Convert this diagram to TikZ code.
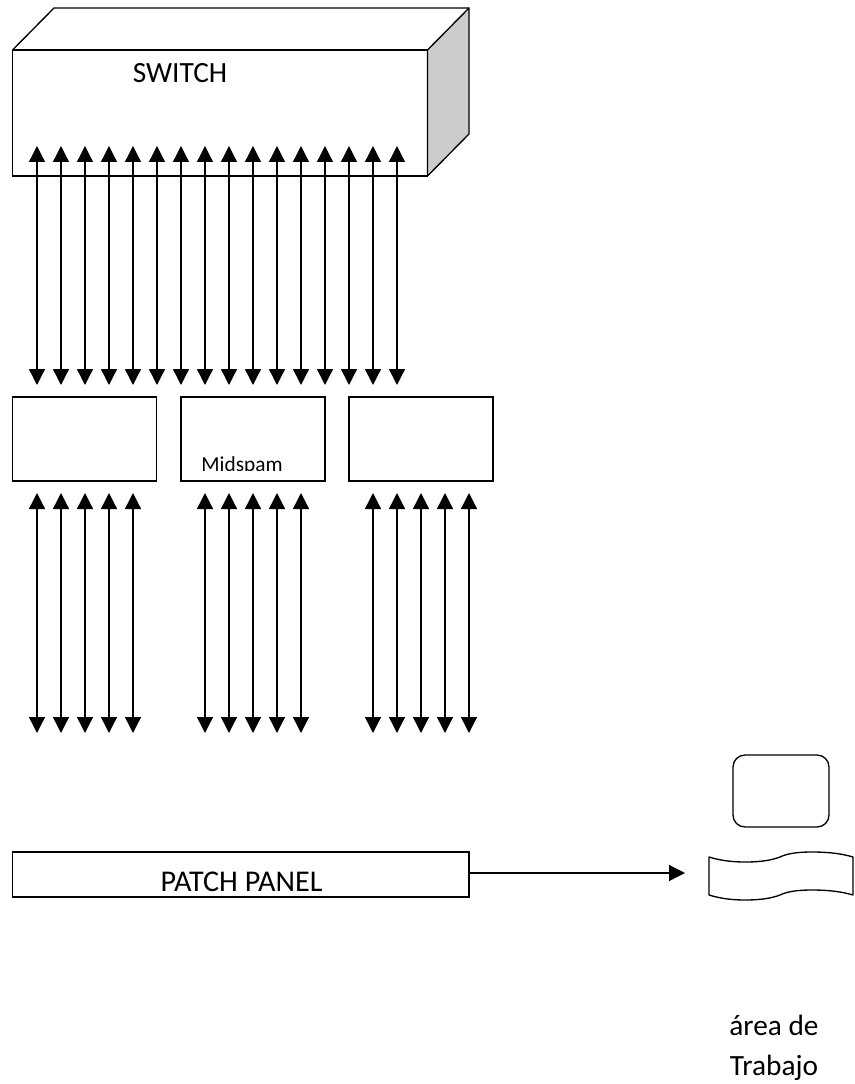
\documentclass[tikz,border=0pt]{standalone}
\usepackage{fontspec}
\setmainfont{Carlito}
\usetikzlibrary{arrows.meta}
\definecolor{sidegray}{HTML}{CCCCCC}
\begin{document}
\begin{tikzpicture}[x=0.75pt, y=-0.75pt,
    box/.style={draw, line width=1pt, anchor=north west, inner sep=0pt, outer sep=0pt},
    link/.style={line width=1pt, {Triangle[width=12pt,length=12pt]}-{Triangle[width=12pt,length=12pt]}},
    label/.style={anchor=base, inner sep=0pt, font=\fontsize{22}{26}\selectfont}]
    \useasboundingbox (0,0) rectangle (855,1084);

    % Switch
    \node[box, minimum width=415*0.75pt, minimum height=126*0.75pt] (switch) at (12.5,50) {};
    \filldraw[line width=1pt, line join=round, fill=sidegray] (switch.north east) -- (469,8) -- (469,134) -- (switch.south east) -- cycle;
    \draw[line width=1pt, line join=round] (switch.north west) -- (54,8) -- (469,8);
    \node[label] (switchtext) at (180,83) {SWITCH};

    % Midspam boxes
    \foreach \name/\x in {mida/12.5, midb/181, midc/349}
        \node[box, minimum width=144*0.75pt, minimum height=84*0.75pt] (\name) at (\x,397) {};
    \begin{scope}
        \clip (181,397) rectangle (325,470);
        \node[label, font=\fontsize{16}{19}\selectfont] (midtext) at (242,471) {Midspam};
    \end{scope}

    % Upper links
    \foreach \x in {37,61,...,397} {
        \coordinate (top\x) at (\x,146);
        \coordinate (bot\x) at (\x,385);
        \draw[link] (top\x) -- (bot\x);
    }

    % Lower links
    \foreach \x in {37,61,85,109,133,205,229,253,277,301,373,397,421,445,469} {
        \coordinate (top\x) at (\x,493);
        \coordinate (bot\x) at (\x,733);
        \draw[link] (top\x) -- (bot\x);
    }

    % Patch panel
    \node[box, minimum width=456.5*0.75pt, minimum height=45*0.75pt] (panel) at (12.5,852) {};
    \node[label, font=\fontsize{22.6}{26}\selectfont] (paneltext) at (241.5,891) {PATCH PANEL};
    \coordinate (panelout) at (469,873);
    \coordinate (paneltip) at (685,873);
    \draw[line width=1pt, -{Triangle[width=12pt,length=12pt]}] (panelout) -- (paneltip);

    % Work area
    \node[box, rounded corners=9pt, minimum width=96*0.75pt, minimum height=72*0.75pt] (monitor) at (733,755) {};
    \draw[line width=1pt, line join=round] (709,857) .. controls (722,861) and (734,862) .. (745,862)
        .. controls (762,862) and (772,860) .. (780,857)
        .. controls (788,853) and (800,852) .. (812,852)
        .. controls (830,852) and (843,854) .. (853,857)
        -- (853,895)
        .. controls (843,892) and (830,890) .. (812,890)
        .. controls (800,890) and (788,891) .. (780,895)
        .. controls (772,898) and (762,900) .. (745,900)
        .. controls (734,900) and (722,899) .. (709,895) -- cycle;
    \node[label] (areatext) at (774,1035) {área de};
    \node[label] (trabajotext) at (774,1075) {Trabajo};
\end{tikzpicture}
\end{document}
